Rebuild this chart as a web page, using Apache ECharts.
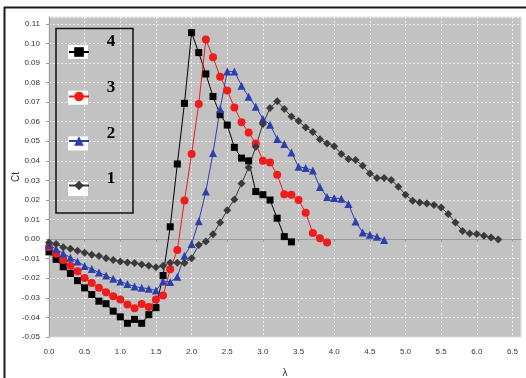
<!DOCTYPE html>
<html>
<head>
<meta charset="utf-8">
<script src="https://cdn.jsdelivr.net/npm/echarts@6/dist/echarts.min.js"></script>
<style>html,body{margin:0;padding:0;background:#fff}#c{width:526px;height:378px}</style>
</head>
<body>
<div id="c"></div>
<script>
const lambda = [0.0,0.1,0.2,0.3,0.4,0.5,0.6,0.7,0.8,0.9,1.0,1.1,1.2,1.3,1.4,1.5,1.6,1.7,1.8,1.9,2.0,2.1,2.2,2.3,2.4,2.5,2.6,2.7,2.8,2.9,3.0,3.1,3.2,3.3,3.4,3.5,3.6,3.7,3.8,3.9,4.0,4.1,4.2,4.3,4.4,4.5,4.6,4.7,4.8,4.9,5.0,5.1,5.2,5.3,5.4,5.5,5.6,5.7,5.8,5.9,6.0,6.1,6.2,6.3];
const seriesNames = ['4','3','2','1'];
const ct4 = [-0.0065,-0.0103,-0.0141,-0.0175,-0.0212,-0.0249,-0.0283,-0.0317,-0.0330,-0.0368,-0.0397,-0.0430,-0.0410,-0.0430,-0.0386,-0.0350,-0.0186,0.0063,0.0384,0.0694,0.1055,0.0953,0.0844,0.0729,0.0636,0.0583,0.0469,0.0414,0.0400,0.0243,0.0227,0.0200,0.0107,0.0013,-0.0014];
const ct3 = [-0.0040,-0.0075,-0.0107,-0.0136,-0.0164,-0.0198,-0.0224,-0.0249,-0.0271,-0.0292,-0.0308,-0.0334,-0.0353,-0.0332,-0.0347,-0.0308,-0.0288,-0.0154,-0.0056,0.0197,0.0435,0.0690,0.1020,0.0929,0.0830,0.0759,0.0673,0.0597,0.0545,0.0489,0.0400,0.0392,0.0329,0.0230,0.0227,0.0200,0.0135,0.0031,0.0005,-0.0017];
const ct2 = [-0.0030,-0.0051,-0.0073,-0.0095,-0.0114,-0.0137,-0.0153,-0.0170,-0.0186,-0.0203,-0.0217,-0.0229,-0.0242,-0.0249,-0.0253,-0.0263,-0.0217,-0.0219,-0.0192,-0.0085,-0.0025,0.0092,0.0244,0.0440,0.0665,0.0857,0.0857,0.0784,0.0728,0.0677,0.0614,0.0585,0.0512,0.0486,0.0443,0.0370,0.0363,0.0351,0.0266,0.0215,0.0210,0.0207,0.0180,0.0090,0.0034,0.0022,0.0012,-0.0005];
const ct1 = [-0.0017,-0.0025,-0.0041,-0.0049,-0.0059,-0.0069,-0.0080,-0.0086,-0.0097,-0.0107,-0.0114,-0.0119,-0.0122,-0.0130,-0.0136,-0.0144,-0.0136,-0.0120,-0.0120,-0.0122,-0.0097,-0.0030,-0.0012,0.0025,0.0085,0.0148,0.0203,0.0284,0.0366,0.0472,0.0588,0.0670,0.0704,0.0665,0.0626,0.0603,0.0570,0.0548,0.0511,0.0489,0.0475,0.0435,0.0409,0.0404,0.0375,0.0336,0.0312,0.0312,0.0302,0.0268,0.0227,0.0196,0.0187,0.0182,0.0175,0.0162,0.0128,0.0085,0.0042,0.0029,0.0026,0.0017,0.0008,-0.0002];

function pairs(vals){ return vals.map((v,i)=>[lambda[i], v]); }

const styles = {
  '4': {color:'#000000', symbol:'rect', size:7},
  '3': {color:'#ee1c1c', symbol:'circle', size:8},
  '2': {color:'#2b3fae', symbol:'triangle', size:8},
  '1': {color:'#3a3a3a', symbol:'diamond', size:8}
};
const valuesByName = {'4':ct4,'3':ct3,'2':ct2,'1':ct1};

const legendTop = 46, legendStep = 45.7;
const legendGraphics = [];
seriesNames.forEach((n,i)=>{
  const cy = legendTop + 6 + i*legendStep;
  legendGraphics.push({type:'rect', z:3, shape:{x:68, y:cy-7, width:20, height:14}, style:{fill:'#ffffff'}});
  legendGraphics.push({type:'text', z:6, x:111, y:cy-10, style:{text:n, font:'bold 17px "Liberation Serif"', fill:'#000', align:'center', verticalAlign:'middle'}});
});

const chart = echarts.init(document.getElementById('c'), null, {renderer:'canvas'});
const axisLabelFont = {fontFamily:'Liberation Sans', fontSize:8, color:'#333'};
chart.setOption({
  animation:false,
  backgroundColor:'#ffffff',
  grid:{left:49, right:5, top:17, bottom:41, outerBoundsMode:'none', containLabel:false, show:true, backgroundColor:'#c2c2c2', borderColor:'#dedede', borderWidth:1},
  xAxis:{
    type:'value', min:0, max:6.62, interval:0.5, offset:4,
    name:'λ', nameLocation:'middle', nameGap:27, nameMoveOverlap:false,
    nameTextStyle:{fontFamily:'Liberation Sans', fontSize:10, color:'#333'},
    axisLine:{show:true, lineStyle:{color:'#9a9a9a', width:1}},
    axisTick:{show:true, length:3, lineStyle:{color:'#9a9a9a'}},
    axisLabel:Object.assign({margin:7, showMaxLabel:false, formatter:v=>v.toFixed(1)}, axisLabelFont),
    splitLine:{show:true, lineStyle:{color:'#ececec', type:[2,2], width:1}}
  },
  yAxis:{
    type:'value', min:-0.05, max:0.1135, interval:0.01, offset:4,
    name:'Ct', nameLocation:'middle', nameGap:24, nameRotate:90, nameMoveOverlap:false,
    nameTextStyle:{fontFamily:'Liberation Sans', fontSize:10, color:'#333'},
    axisLine:{show:true, lineStyle:{color:'#9a9a9a', width:1}},
    axisTick:{show:true, length:3, lineStyle:{color:'#9a9a9a'}},
    axisLabel:Object.assign({margin:5, showMaxLabel:false, formatter:v=>v.toFixed(2)}, axisLabelFont),
    splitLine:{show:true, lineStyle:{color:'#ececec', type:[2,2], width:1}}
  },
  legend:{
    show:true, orient:'vertical', left:63, top:legendTop-5, padding:5,
    itemWidth:20, itemHeight:12, itemGap:legendStep-12,
    data:seriesNames,
    formatter:()=>'',
    textStyle:{fontSize:1},
    z:5
  },
  graphic:legendGraphics.concat([
    {type:'rect', z:3, shape:{x:56, y:28.5, width:77, height:184.5}, style:{fill:null, stroke:'#111', lineWidth:1.5}},
    {type:'line', z:3, shape:{x1:4, y1:7.5, x2:526, y2:7.5}, style:{stroke:'#1a1a1a', lineWidth:2}},
    {type:'line', z:3, shape:{x1:4.5, y1:7, x2:4.5, y2:378}, style:{stroke:'#1a1a1a', lineWidth:2}}
  ]),
  series:seriesNames.map(n=>({
    name:n, type:'line', data:pairs(valuesByName[n]),
    symbol:styles[n].symbol, symbolSize:styles[n].size, showSymbol:true,
    itemStyle:{color:styles[n].color},
    lineStyle:{color:styles[n].color, width:1},
    z:2
  }))
});
</script>
</body>
</html>
